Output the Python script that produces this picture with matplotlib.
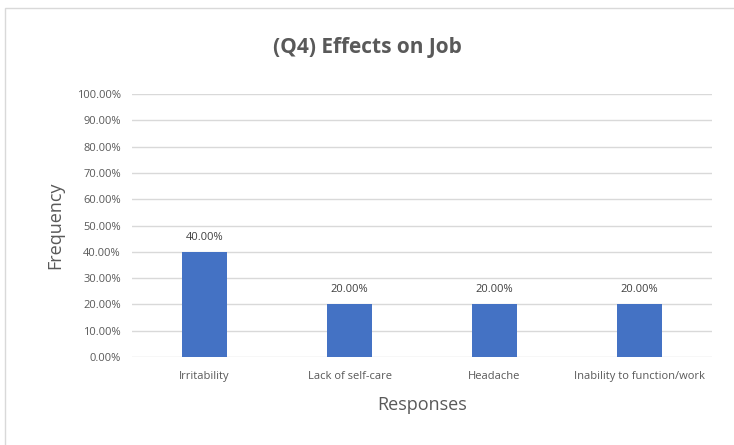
import matplotlib.pyplot as plt
from matplotlib.patches import Rectangle
from matplotlib.ticker import PercentFormatter

# donnees
categories = ['Irritability', 'Lack of self-care', 'Headache', 'Inability to function/work']
valeurs = [40.0, 20.0, 20.0, 20.0]
yticks = [0, 10, 20, 30, 40, 50, 60, 70, 80, 90, 100]

plt.rcParams['font.family'] = ['Open Sans', 'DejaVu Sans']
gris = '#595959'

fig = plt.figure(figsize=(7.34, 4.45), dpi=100)
fig.patches.append(Rectangle((5/734, -0.01), 1.0, 1 - 8/445 + 0.01, transform=fig.transFigure,
                             fill=False, edgecolor='#D9D9D9', linewidth=1))
ax = fig.add_axes([132/734, 1 - 357/445, 580/734, 263/445])

x = range(len(categories))
barres = ax.bar(x, valeurs, width=0.31, color='#4472C4', zorder=3)
for b, v in zip(barres, valeurs):
    ax.text(b.get_x() + b.get_width()/2, v + 3.5, f'{v:.2f}%', ha='center', va='bottom',
            fontsize=8, color='#404040')

ax.set_xlim(-0.5, len(categories) - 0.5)
ax.set_ylim(0, 100)
ax.set_yticks(yticks)
ax.yaxis.set_major_formatter(PercentFormatter(decimals=2))
ax.set_xticks(list(x))
ax.set_xticklabels(categories)
ax.tick_params(length=0, labelsize=8, labelcolor=gris, pad=8)
ax.tick_params(axis='x', pad=10)
ax.grid(axis='y', color='#D9D9D9', linewidth=1, zorder=0)
for s in ax.spines.values():
    s.set_visible(False)

fig.text(0.5, 1 - 47/445, '(Q4) Effects on Job', ha='center', va='center',
         fontsize=15, fontweight='bold', color=gris)
fig.text(55/734, 1 - 225/445, 'Frequency', rotation=90, ha='center', va='center',
         fontsize=13, color=gris)
fig.text(422/734, 1 - 405/445, 'Responses', ha='center', va='center', fontsize=13, color=gris)

fig.savefig('out.png', dpi=100)
